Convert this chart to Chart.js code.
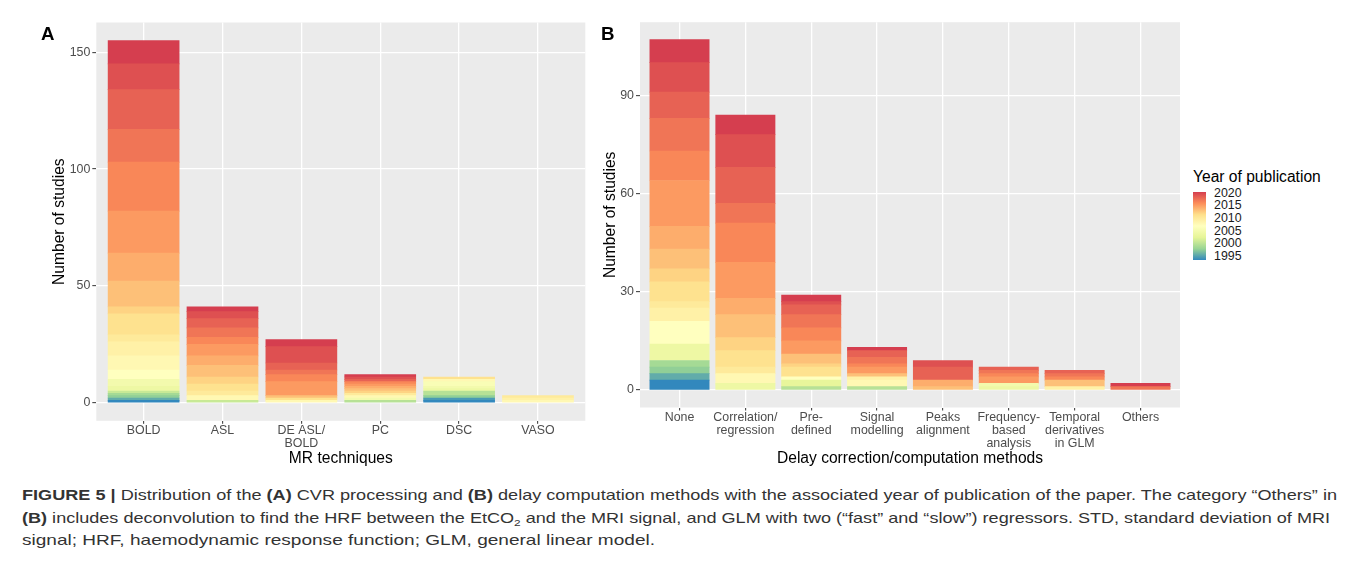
<!DOCTYPE html>
<html>
<head>
<meta charset="utf-8">
<title>Figure 5</title>
<script src="https://cdn.jsdelivr.net/npm/chart.js@4.4.1/dist/chart.umd.min.js"></script>
<style>
  html, body { margin: 0; padding: 0; background: #fff; }
  #fig { position: relative; width: 1357px; height: 585px; overflow: hidden;
         font-family: "Liberation Sans", Arial, Helvetica, sans-serif; color: #000; }
  canvas { position: absolute; top: 0; }
  #chartA { left: 0; }
  #chartB { left: 595px; }
  .letter { position: absolute; top: 24.3px; font-size: 18.7px; line-height: 20px; font-weight: bold; }
  #legTitle { position: absolute; left: 1193px; top: 167.5px; font-size: 15.6px; line-height: 17px; white-space: nowrap; }
  #legBar { position: absolute; left: 1193px; top: 191.5px; width: 13px; height: 68px; }
  .legLab { position: absolute; left: 1214px; font-size: 12.4px; line-height: 14px; color: #1a1a1a; }
  .cap { position: absolute; left: 22px; font-size: 14.5px; line-height: 20px; white-space: nowrap; color: #333;
         transform-origin: 0 0; font-family: "Liberation Sans", Arial, Helvetica, sans-serif; }
  .cap sub { font-size: 9.5px; line-height: 0; vertical-align: -3px; }
</style>
</head>
<body>
<div id="fig">
  <canvas id="chartA" width="595" height="475"></canvas>
  <canvas id="chartB" width="590" height="475"></canvas>
  <div class="letter" style="left:41px">A</div>
  <div class="letter" style="left:601px">B</div>
  <div id="legTitle">Year of publication</div>
  <div id="legBar"></div>
  <div id="legLabels"></div>
  <div class="cap" style="top:485px" data-w="1315"><b>FIGURE 5 |</b> Distribution of the <b>(A)</b> CVR processing and <b>(B)</b> delay computation methods with the associated year of publication of the paper. The category “Others” in</div>
  <div class="cap" style="top:507.5px" data-w="1308"><b>(B)</b> includes deconvolution to find the HRF between the EtCO<sub>2</sub> and the MRI signal, and GLM with two (“fast” and “slow”) regressors. STD, standard deviation of MRI</div>
  <div class="cap" style="top:530px" data-w="633">signal; HRF, haemodynamic response function; GLM, general linear model.</div>
</div>
<script>
// years of publication, oldest first (one stacked segment each)
const YEARS = [1994, 1995, 1996, 1997, 1998, 1999, 2000, 2001, 2002, 2003, 2004, 2005, 2006, 2007,
               2008, 2009, 2010, 2011, 2012, 2013, 2014, 2015, 2016, 2017, 2018, 2019, 2020];
const LEGEND_YEARS = [2020, 2015, 2010, 2005, 2000, 1995];

// panel A - MR techniques, studies per year (1994..2020)
const MR_TECHNIQUES = ['BOLD', 'ASL', ['DE ASL/', 'BOLD'], 'PC', 'DSC', 'VASO'];
const boldYears  = [1,0,1,0,1,1,0,1,0,0,2,3,0,4, 6,6,3,9,3,11,12,18,21,14,17,11,10];
const aslYears   = [0,0,0,0,0,0,0,1,0,0,0,0,0,0, 2,0,2,3,3,5,4,5,3,4,4,3,2];
const deYears    = [0,0,0,0,0,0,0,0,0,0,0,0,0,0, 1,0,0,1,0,1,0,6,3,2,3,7,3];
const pcYears    = [0,0,0,0,0,0,1,0,0,0,0,1,0,0, 1,0,1,0,1,1,1,1,1,0,1,1,1];
const dscYears   = [1,1,0,0,1,0,2,0,0,0,1,1,2,0, 1,0,0,1,0,0,0,0,0,0,0,0,0];
const vasoYears  = [0,0,0,0,0,0,0,0,0,0,0,0,0,0, 1,1,1,0,0,0,0,0,0,0,0,0,0];
const Y_TICKS_A = [0, 50, 100, 150];

// panel B - delay correction/computation methods, studies per year (1994..2020)
const DELAY_METHODS = ['None', ['Correlation/', 'regression'], ['Pre-', 'defined'], ['Signal', 'modelling'],
                       ['Peaks', 'alignment'], ['Frequency-', 'based', 'analysis'], ['Temporal', 'derivatives', 'in GLM'], 'Others'];
const noneYears     = [3,0,2,0,2,2,0,0,0,0,5,0,0,7, 0,4,2,6,4,6,7,14,9,10,8,9,7];
const corrYears     = [0,0,0,0,0,0,0,0,0,0,2,0,0,0, 3,0,2,5,4,7,5,11,12,6,11,10,6];
const predefYears   = [0,0,0,0,0,0,1,0,0,2,0,0,0,1, 0,0,0,3,1,3,0,4,4,4,3,1,2];
const signalYears   = [0,0,0,0,0,0,1,0,0,0,0,0,0,0, 2,1,0,0,0,1,0,2,1,2,2,0,1];
const peaksYears    = [0,0,0,0,0,0,0,0,0,0,0,0,0,0, 0,0,0,0,0,1,2,0,0,0,4,2,0];
const freqYears     = [0,0,0,0,0,0,0,0,0,0,1,1,0,0, 0,0,0,0,0,0,0,2,1,1,1,0,0];
const temporalYears = [0,0,0,0,0,0,0,0,0,0,0,0,0,0, 0,1,0,0,0,2,0,0,1,1,1,0,0];
const othersYears   = [0,0,0,0,0,0,0,0,0,0,0,0,0,0, 0,0,0,0,0,0,0,0,0,1,0,0,1];
const Y_TICKS_B = [0, 30, 60, 90];

// reversed Spectral (distiller) ramp: old = blue, new = red
const SPECTRAL = ['#3288bd', '#99d594', '#e6f598', '#ffffbf', '#fee08b', '#fc8d59', '#d53e4f'];

const FONT = '"Liberation Sans", Arial, Helvetica, sans-serif';
Chart.defaults.font.family = FONT;

function hexRgb(h) { return [1, 3, 5].map(i => parseInt(h.slice(i, i + 2), 16)); }

function yearColour(yr) {
    const first = YEARS[0], last = YEARS[YEARS.length - 1];
    const t = (yr - first) / (last - first) * (SPECTRAL.length - 1);
    const i = Math.min(Math.floor(t), SPECTRAL.length - 2);
    const f = t - i;
    const a = hexRgb(SPECTRAL[i]), b = hexRgb(SPECTRAL[i + 1]);
    return 'rgb(' + a.map((v, k) => Math.round(v + (b[k] - v) * f)).join(',') + ')';
}

// grey ggplot panel behind the grid
const panelBg = {
    id: 'panelBg',
    beforeDraw(chart) {
        const { ctx, chartArea: a } = chart;
        ctx.save();
        ctx.fillStyle = '#ebebeb';
        ctx.fillRect(a.left, a.top, a.right - a.left, a.bottom - a.top);
        ctx.restore();
    }
};

function buildDatasets(rows) {
    return YEARS.map((yr, j) => ({
        label: String(yr),
        data: rows.map((r, i) => ({ x: i + 1, y: r[j] })).filter(p => p.y > 0),
        backgroundColor: yearColour(yr),
        borderWidth: 0,
        inflateAmount: 0.35,
        barPercentage: 0.9,
        categoryPercentage: 1
    }));
}

function drawPanel(id, cats, rows, yTicks, xTitle, geo) {
    const totals = rows.map(r => r.reduce((s, v) => s + v, 0));
    const top = Math.max(...totals);
    return new Chart(document.getElementById(id), {
        type: 'bar',
        data: { datasets: buildDatasets(rows) },
        options: {
            responsive: false, animation: false,
            layout: { padding: { top: geo.padTop, right: geo.padRight, left: 0, bottom: 0 } },
            plugins: { legend: { display: false }, tooltip: { enabled: false } },
            scales: {
                x: {
                    type: 'linear', stacked: true, offset: false,
                    min: 0.4, max: cats.length + 0.6,
                    afterBuildTicks: s => { s.ticks = cats.map((_, i) => ({ value: i + 1 })); },
                    afterFit: s => { s.height = geo.xAxisH; },
                    ticks: { callback: v => cats[v - 1], color: '#4d4d4d', autoSkip: false, maxRotation: 0,
                             padding: 0, font: { size: 12.4, lineHeight: 1.08 } },
                    grid: { color: '#ffffff', lineWidth: 1.3, offset: false, tickColor: '#333333', tickLength: 3, tickWidth: 1 },
                    border: { display: false },
                    title: { display: true, text: xTitle, color: '#000', font: { size: 15.6 },
                             padding: { top: 0, bottom: geo.xTitlePad } }
                },
                y: {
                    stacked: true, min: -top * 0.05, max: top * 1.05,
                    afterBuildTicks: s => { s.ticks = yTicks.map(v => ({ value: v })); },
                    afterFit: s => { s.width = geo.yAxisW; },
                    ticks: { color: '#4d4d4d', padding: 2, font: { size: 12.4 } },
                    grid: { color: '#ffffff', lineWidth: 1.3, tickColor: '#333333', tickLength: 4, tickWidth: 1 },
                    border: { display: false },
                    title: { display: true, text: 'Number of studies', color: '#000', font: { size: 15.6 },
                             padding: { top: geo.yTitlePad, bottom: 0 } }
                }
            }
        },
        plugins: [panelBg]
    });
}

drawPanel('chartA', MR_TECHNIQUES,
    [boldYears, aslYears, deYears, pcYears, dscYears, vasoYears],
    Y_TICKS_A, 'MR techniques',
    { padTop: 22.5, padRight: 9.7, yAxisW: 96.3, xAxisH: 54.2, xTitlePad: 6.6, yTitlePad: 50.6 });

drawPanel('chartB', DELAY_METHODS,
    [noneYears, corrYears, predefYears, signalYears, peaksYears, freqYears, temporalYears, othersYears],
    Y_TICKS_B, 'Delay correction/computation methods',
    { padTop: 22.2, padRight: 5, yAxisW: 45, xAxisH: 67.5, xTitlePad: 6.6, yTitlePad: 6.6 });

// colour bar legend
const bar = document.getElementById('legBar');
bar.style.background = 'linear-gradient(to top, ' + SPECTRAL.join(', ') + ')';
const legTop = 192.7, pxPerYear = 2.53;
const labBox = document.getElementById('legLabels');
LEGEND_YEARS.forEach(yr => {
    const d = document.createElement('div');
    d.className = 'legLab';
    d.textContent = yr;
    d.style.top = (legTop + (YEARS[YEARS.length - 1] - yr) * pxPerYear - 7) + 'px';
    labBox.appendChild(d);
});

// squeeze caption lines to the printed width
document.querySelectorAll('.cap').forEach(el => {
    const w = el.getBoundingClientRect().width;
    el.style.transform = 'scaleX(' + (+el.dataset.w / w) + ')';
});
</script>
</body>
</html>
